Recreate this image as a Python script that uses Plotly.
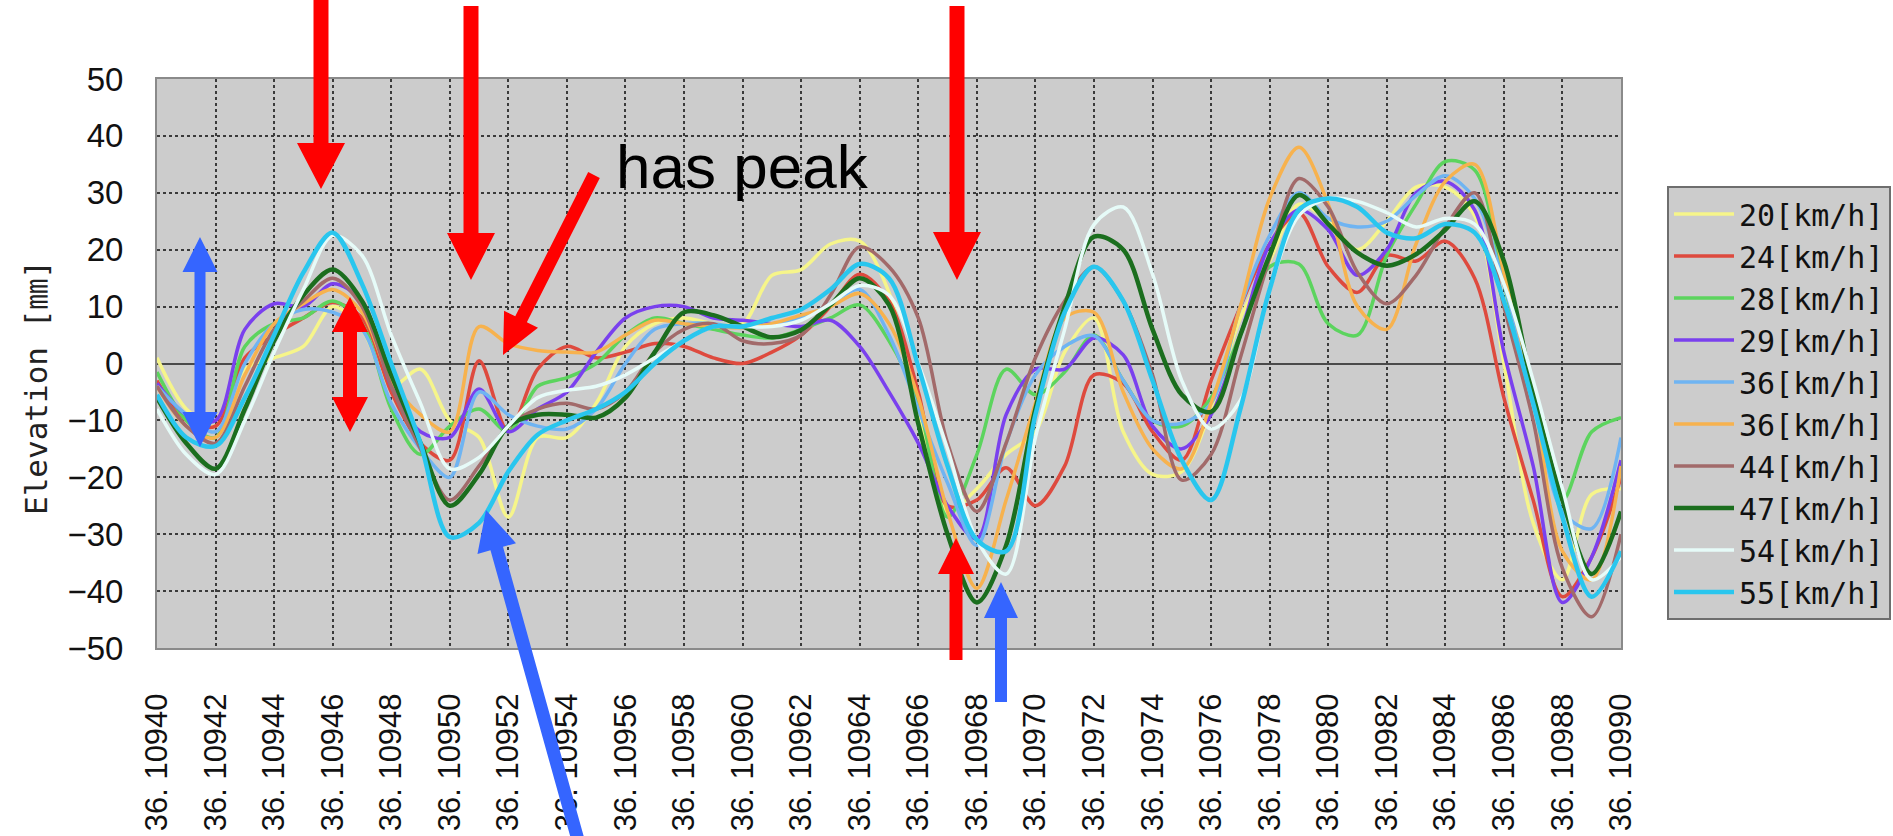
import math
import plotly.graph_objects as go

# ---------------- data ----------------
# position along the track (latitude 36.1xxxx, last five digits)
pos = [10940, 10941, 10942, 10943, 10944, 10945, 10946, 10947, 10948, 10949,
       10950, 10951, 10952, 10953, 10954, 10955, 10956, 10957, 10958, 10959,
       10960, 10961, 10962, 10963, 10964, 10965, 10966, 10967, 10968, 10969,
       10970, 10971, 10972, 10973, 10974, 10975, 10976, 10977, 10978, 10979,
       10980, 10981, 10982, 10983, 10984, 10985, 10986, 10987, 10988, 10989,
       10990]

tick_pos = [10940, 10942, 10944, 10946, 10948, 10950, 10952, 10954, 10956,
            10958, 10960, 10962, 10964, 10966, 10968, 10970, 10972, 10974,
            10976, 10978, 10980, 10982, 10984, 10986, 10988, 10990]
tick_text = ["36. 10940", "36. 10942", "36. 10944", "36. 10946", "36. 10948",
             "36. 10950", "36. 10952", "36. 10954", "36. 10956", "36. 10958",
             "36. 10960", "36. 10962", "36. 10964", "36. 10966", "36. 10968",
             "36. 10970", "36. 10972", "36. 10974", "36. 10976", "36. 10978",
             "36. 10980", "36. 10982", "36. 10984", "36. 10986", "36. 10988",
             "36. 10990"]

y_ticks = [50, 40, 30, 20, 10, 0, -10, -20, -30, -40, -50]

v20 = [1, -8, -11, -1, 1, 3, 10, 6, -4, -1,
       -10, -13, -27, -13, -13, -7, 3, 7, 8, 7,
       7, 15.5, 16.5, 21, 21.5, 12.5, -8, -26, -22, -16,
       -12, 2, 8, -12, -19.5, -19, -8, 8, 18, 28,
       25, 20, 25, 31, 31, 26, 0, -28, -38, -23,
       -22]
v24 = [-3, -10, -11, 1, 5, 8, 10.7, 8, -5, -14,
       -17, 0.5, -12, -1, 3, 1, 2, 3.5, 3, 1,
       0, 2, 5, 10, 15.7, 11, -5, -25, -24, -18.3,
       -25, -18, -2, -3.5, -12, -17, -3, 10, 21, 26.5,
       17, 12.5, 19, 18, 21.5, 15, -6, -24, -41, -34,
       -20]
v28 = [-1.5, -10, -13, 3, 7, 8, 11, 7, -8, -16,
       -11, -8, -12, -4, -2.5, 0, 5, 8, 7, 6,
       5, 4.5, 6, 8, 10.3, 4, -7, -27, -16, -1,
       -5.5, -1.5, 5, -3, -10, -11, -6, 5, 17, 17.5,
       7, 5, 19, 28, 35.5, 34, 14, -6, -24, -12,
       -9.5]
v29 = [-3.5, -9, -10, 6, 10.5, 10, 14, 11, -4, -12,
       -13, -4.5, -12, -8, -5, 2, 8, 10, 10, 8,
       7.6, 7, 6.5, 7.6, 3, -5, -14, -25, -30.8, -9,
       -1, -1, 4.5, 1.5, -11, -15, -9, 5, 21, 27,
       23.5, 15.5, 20, 30, 32, 27, 2, -18, -42, -34,
       -17]
v36a = [-4, -9, -12, 0, 7, 9.5, 9, 6, -7, -15,
        -20, -5, -9, -11, -11.5, -8, 0, 6, 7, 7,
        6.3, 7, 8, 10.5, 13, 5, -8, -21, -32, -14,
        -2, 3, 4.9, -3, -10, -10.5, -7, 10, 22.5, 30,
        25.5, 24, 25, 29.5, 33, 29, 14, -5, -26, -29,
        -13]
v36b = [-4, -11, -13, -2, 7, 10.5, 13, 9, -3, -9,
        -12, 6.5, 3.5, 2.3, 2, 2, 5, 7.6, 7, 6.5,
        6.3, 7, 8.5, 10, 12.3, 7, -6, -26, -39.5, -24,
        -7, 8, 9, -5, -15, -18.5, -7, 10, 29, 38,
        28, 10, 6, 21, 32, 35, 16, -5, -33, -38,
        -18]
v44 = [-4, -11, -14, -4, 6, 11, 15, 10, -4, -15,
       -24, -18, -11, -8, -7, -8, -5, 2, 6, 7,
       4, 3.5, 5, 12, 20.5, 17, 8, -14, -26, -14,
       1, 11, 17, 11, -2, -20.5, -16, 1, 18.5, 32.5,
       27.5, 16, 10.5, 15.5, 24, 30, 10, -10, -36, -44.5,
       -30]
v47 = [-6, -14, -18.5, -8, 4, 12, 16.5, 11, -2, -14,
       -25, -19.5, -11, -9, -9, -9.5, -6, 2, 9, 8.5,
       6.5, 4.6, 5.9, 10.3, 15, 10.3, -10.6, -30, -42, -32,
       -8, 10, 22.3, 20, 6, -5.5, -8.5, 5, 19, 29.6,
       24.5, 19.5, 17.2, 19.2, 23.5, 28.5, 18, -5, -24, -37,
       -26]
v54 = [-8, -16, -19.5, -10, 2, 13, 22.5, 19, 5, -7,
       -18.5, -16.5, -11, -6, -4.7, -4, -2, 1, 4, 6.5,
       6.5, 6.5, 7.6, 10.5, 13.7, 12, 0, -15, -31, -37,
       -13, 6, 24.4, 27.5, 15.7, -3, -11.5, -6.5, 13, 26,
       29, 28.5, 26.5, 24, 25.5, 24.5, 14, -3, -22, -38,
       -34]
v55 = [-5.5, -13, -14.5, -6, 5, 16, 23, 14, 0, -14,
       -30.5, -28, -19, -12.5, -10, -8, -5, 0, 4, 6.5,
       6.5, 8, 9.5, 13, 17.5, 15, -0.5, -18, -31, -33,
       -9, 9, 17, 11, -3, -17, -24, -8, 13, 27,
       29, 27.5, 23, 22, 24.5, 23, 11, -7, -27, -41,
       -33]

names = ["20[km/h]", "24[km/h]", "28[km/h]", "29[km/h]", "36[km/h]",
         "36[km/h]", "44[km/h]", "47[km/h]", "54[km/h]", "55[km/h]"]
values = [v20, v24, v28, v29, v36a, v36b, v44, v47, v54, v55]
colors = ["#f6f58a", "#de4a3e", "#5cd45e", "#7a40ee", "#6fb4f2",
          "#f7b24e", "#a26a6a", "#1b6e1e", "#e6fbf8", "#29c6ee"]
widths = [3.5, 3.5, 3.5, 3.5, 3.5, 3.5, 3.5, 4.5, 3.5, 4.5]

# ---------------- figure ----------------
L, R, T, B = 157, 1621, 79, 648
W, H = R - L, B - T


def P(px, py):
    return (px - L) / W, (B - py) / H


def arrow_path(tail, tip, sw, hw, hl, double=False):
    x0, y0 = tail
    x1, y1 = tip
    dx, dy = x1 - x0, y1 - y0
    ln = math.hypot(dx, dy)
    ux, uy = dx / ln, dy / ln
    nx, ny = -uy, ux
    bx, by = x1 - ux * hl, y1 - uy * hl
    if double:
        sx, sy = x0 + ux * hl, y0 + uy * hl
        pts = [(x0, y0),
               (sx - nx * hw / 2, sy - ny * hw / 2),
               (sx - nx * sw / 2, sy - ny * sw / 2),
               (bx - nx * sw / 2, by - ny * sw / 2),
               (bx - nx * hw / 2, by - ny * hw / 2),
               (x1, y1),
               (bx + nx * hw / 2, by + ny * hw / 2),
               (bx + nx * sw / 2, by + ny * sw / 2),
               (sx + nx * sw / 2, sy + ny * sw / 2),
               (sx + nx * hw / 2, sy + ny * hw / 2)]
    else:
        pts = [(x0 + nx * sw / 2, y0 + ny * sw / 2),
               (bx + nx * sw / 2, by + ny * sw / 2),
               (bx + nx * hw / 2, by + ny * hw / 2),
               (x1, y1),
               (bx - nx * hw / 2, by - ny * hw / 2),
               (bx - nx * sw / 2, by - ny * sw / 2),
               (x0 - nx * sw / 2, y0 - ny * sw / 2)]
    parts = []
    for i, (px, py) in enumerate(pts):
        qx, qy = P(px, py)
        parts.append(("M" if i == 0 else "L") + f"{qx:.5f},{qy:.5f}")
    return " ".join(parts) + " Z"


RED = "#ff0000"
BLUE = "#3565ff"
arrows = [
    ((321, -5), (321, 189), 15, 48, 46, False, RED),
    ((471, 6), (471, 280), 15, 48, 47, False, RED),
    ((957, 6), (957, 280), 15, 48, 48, False, RED),
    ((956, 660), (956, 538), 13, 36, 36, False, RED),
    ((1001, 702), (1001, 582), 12, 34, 36, False, BLUE),
    ((350, 297), (350, 432), 14, 36, 35, True, RED),
    ((200, 237), (200, 447), 11, 35, 35, True, BLUE),
    ((578, 840), (486, 510), 13, 40, 40, False, BLUE),
    ((594, 175), (503, 355), 13, 38, 40, False, RED),
]

fig = go.Figure()
for i, (nm, vals, col, wd) in enumerate(zip(names, values, colors, widths)):
    fig.add_trace(go.Scatter(
        x=pos, y=vals, mode="lines", name=nm,
        line=dict(color=col, width=wd, shape="spline", smoothing=0.9),
        legendgroup=f"g{i}", hoverinfo="skip"))

shapes = []
for tail, tip, sw, hw, hl, dbl, col in arrows:
    shapes.append(dict(type="path", xref="paper", yref="paper",
                       path=arrow_path(tail, tip, sw, hw, hl, dbl),
                       fillcolor=col, line=dict(width=0), layer="above"))

x_font = dict(family="Liberation Sans, Arial, sans-serif", size=31, color="#111111")
y_font = dict(family="Liberation Sans, Arial, sans-serif", size=33, color="#111111")

fig.update_layout(
    width=1893, height=836,
    margin=dict(l=L, r=1893 - R, t=T, b=836 - B, pad=0, autoexpand=False),
    paper_bgcolor="white",
    plot_bgcolor="#cccccc",
    showlegend=True,
    legend=dict(
        x=(1667 - L) / W, y=(B - 186) / H, xanchor="left", yanchor="top",
        bgcolor="#cccccc", bordercolor="#6e6e6e", borderwidth=2,
        font=dict(family="DejaVu Sans Mono, monospace", size=30, color="#111111"),
        itemwidth=60, tracegroupgap=0, traceorder="normal"),
    xaxis=dict(
        range=[10940, 10990], tickmode="array", tickvals=tick_pos, ticktext=tick_text,
        tickangle=-90, tickfont=x_font, ticklabelstandoff=31, automargin=False,
        showgrid=True, gridcolor="#3a3a3a", gridwidth=2, griddash="dot",
        showline=True, linecolor="#8a8a8a", linewidth=2, mirror=True,
        zeroline=False, ticks=""),
    yaxis=dict(
        range=[-50, 50], tickmode="array", tickvals=y_ticks,
        ticktext=[str(v).replace("-", "\u2212") for v in y_ticks],
        tickfont=y_font, ticklabelstandoff=25, automargin=False,
        showgrid=True, gridcolor="#3a3a3a", gridwidth=2, griddash="dot",
        zeroline=True, zerolinecolor="#4a4a4a", zerolinewidth=2,
        showline=True, linecolor="#8a8a8a", linewidth=2, mirror=True, ticks=""),
    shapes=shapes,
    annotations=[
        dict(text="Elevation [\u339c]", xref="paper", yref="paper",
             x=P(36, 388)[0], y=P(36, 388)[1], textangle=-90, showarrow=False,
             xanchor="center", yanchor="middle",
             font=dict(family="DejaVu Sans Mono, Noto Sans CJK JP, monospace",
                       size=31, color="#222222")),
        dict(text="has peak", xref="paper", yref="paper",
             x=P(742, 166)[0], y=P(742, 166)[1], showarrow=False,
             xanchor="center", yanchor="middle",
             font=dict(family="Liberation Sans, Arial, sans-serif", size=62,
                       color="#000000")),
    ],
)

fig.write_html("out.html")
